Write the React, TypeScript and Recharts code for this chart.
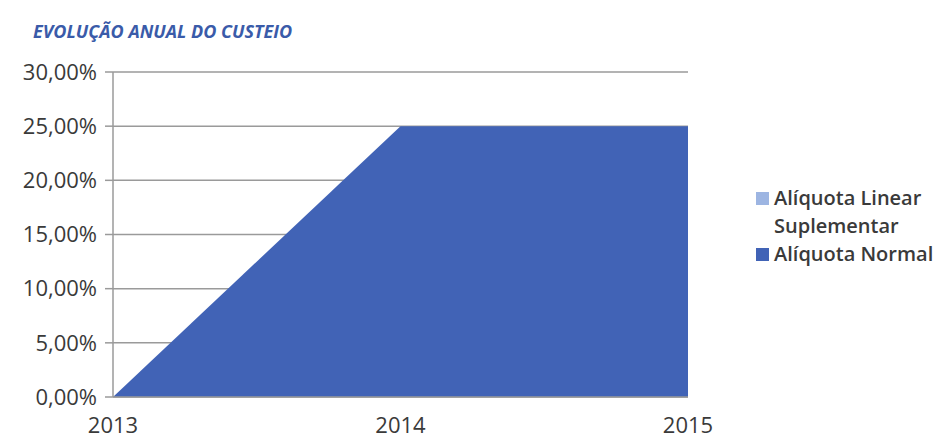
import React from "react";
import { Area, AreaChart, CartesianGrid, Legend, XAxis, YAxis } from "recharts";

const anos = ["2013", "2014", "2015"];
const aliquotaNormal = [0, 25, 25];
const aliquotaLinearSuplementar = [0, 0, 0];
const ticksY = [0, 5, 10, 15, 20, 25, 30];

const COR_NORMAL = "#4163b6";
const COR_LINEAR = "#9db5e2";
const FONTE = "'Open Sans', sans-serif";

const dados = anos.map((ano, i) => ({
  ano,
  normal: aliquotaNormal[i],
  linear: aliquotaLinearSuplementar[i],
}));

const formatoPct = (v: number) => v.toFixed(2).replace(".", ",") + "%";

function LegendaCusteio() {
  const quadrado = (cor: string) => (
    <span
      style={{
        display: "inline-block",
        width: 13,
        height: 13,
        background: cor,
        marginRight: 5,
        marginTop: 8,
        flex: "none",
      }}
    />
  );
  return (
    <div style={{ fontFamily: FONTE, fontSize: 20, fontWeight: 600, color: "#3a3a3a", lineHeight: "28px" }}>
      <div style={{ display: "flex", alignItems: "flex-start" }}>
        {quadrado(COR_LINEAR)}
        <div>
          <div>Alíquota Linear</div>
          <div>Suplementar</div>
        </div>
      </div>
      <div style={{ display: "flex", alignItems: "flex-start" }}>
        {quadrado(COR_NORMAL)}
        <div style={{ whiteSpace: "nowrap" }}>Alíquota Normal</div>
      </div>
    </div>
  );
}

export default function App() {
  return (
    <div style={{ position: "absolute", left: 0, top: 0, width: 951, height: 442, background: "#fff" }}>
      <div
        style={{
          position: "absolute",
          left: 33,
          top: 19,
          fontFamily: FONTE,
          fontSize: 18,
          fontWeight: 700,
          fontStyle: "italic",
          color: "#3a5ba9",
        }}
      >
        EVOLUÇÃO ANUAL DO CUSTEIO
      </div>
      <AreaChart width={951} height={442} data={dados} margin={{ top: 72, right: 68, bottom: 15, left: 33 }}>
        <CartesianGrid vertical={false} stroke="#9a9a9a" strokeWidth={1.5} />
        <XAxis
          dataKey="ano"
          axisLine={{ stroke: "#9a9a9a", strokeWidth: 1.5 }}
          tickLine={false}
          height={30}
          tick={{ fontFamily: FONTE, fontSize: 22, fill: "#3a3a3a" }}
          tickMargin={14}
        />
        <YAxis
          domain={[0, 30]}
          ticks={ticksY}
          tickFormatter={formatoPct}
          width={80}
          axisLine={{ stroke: "#9a9a9a", strokeWidth: 1.5 }}
          tickLine={{ stroke: "#9a9a9a", strokeWidth: 1.5 }}
          tickSize={8}
          tickMargin={8}
          tick={{ fontFamily: FONTE, fontSize: 22, fill: "#3a3a3a" }}
        />
        <Area
          type="linear"
          dataKey="normal"
          name="Alíquota Normal"
          stackId="1"
          stroke="none"
          fill={COR_NORMAL}
          fillOpacity={1}
          isAnimationActive={false}
        />
        <Area
          type="linear"
          dataKey="linear"
          name="Alíquota Linear Suplementar"
          stackId="1"
          stroke="none"
          fill={COR_LINEAR}
          fillOpacity={1}
          isAnimationActive={false}
        />
        <Legend
          layout="vertical"
          align="right"
          verticalAlign="top"
          content={() => <LegendaCusteio />}
          wrapperStyle={{ position: "absolute", left: 756, top: 184, width: 195 }}
        />
      </AreaChart>
    </div>
  );
}
